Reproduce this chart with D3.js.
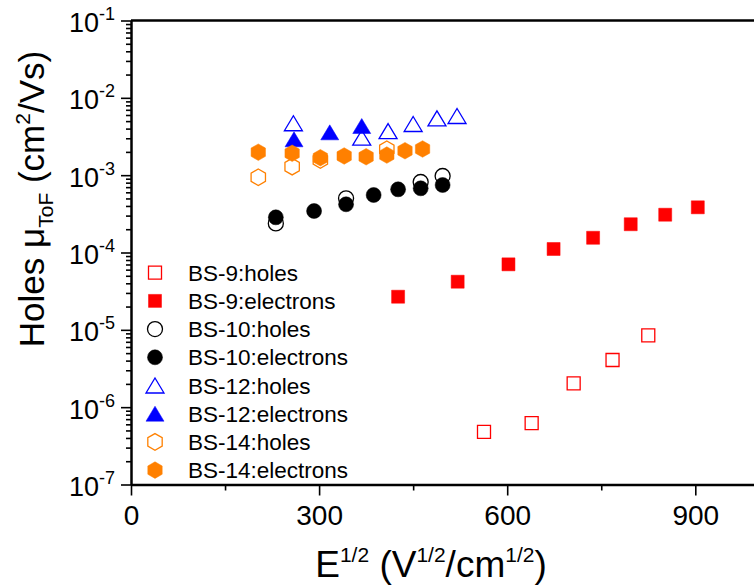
<!DOCTYPE html>
<html>
<head>
<meta charset="utf-8">
<script src="https://d3js.org/d3.v7.min.js"></script>
<style>
  body { margin: 0; background: #fff; }
  text { font-family: "Liberation Sans", Arial, sans-serif; fill: #000; }
</style>
</head>
<body>
<div id="chart"></div>
<script>
// values
const bs9HolesX = [563, 639, 706, 768, 825];
const bs9HolesY = [4.8e-7, 6.2e-7, 2.03e-6, 4.07e-6, 8.5e-6];
const bs9ElecX = [426, 521, 602, 674, 737, 797, 852, 904];
const bs9ElecY = [2.68e-5, 4.19e-5, 7.03e-5, 1.11e-4, 1.55e-4, 2.32e-4, 3.08e-4, 3.84e-4];
const bs10HolesX = [231, 343, 462, 497];
const bs10HolesY = [2.38e-4, 5.02e-4, 8.16e-4, 9.75e-4];
const bs10ElecX = [231, 292, 343, 387, 426, 462, 497];
const bs10ElecY = [2.85e-4, 3.44e-4, 4.2e-4, 5.54e-4, 6.56e-4, 6.76e-4, 7.46e-4];
const bs12HolesX = [259, 368, 410, 450, 488, 520];
const bs12HolesY = [4.69e-3, 3.05e-3, 3.72e-3, 4.59e-3, 5.43e-3, 5.82e-3];
const bs12ElecX = [260, 317, 368];
const bs12ElecY = [2.91e-3, 3.58e-3, 4.32e-3];
const bs14HolesX = [203, 257, 302, 408];
const bs14HolesY = [9.4e-4, 1.29e-3, 1.57e-3, 2.16e-3];
const bs14ElecX = [203, 257, 302, 340, 375, 408, 437, 465];
const bs14ElecY = [1.98e-3, 1.92e-3, 1.68e-3, 1.77e-3, 1.73e-3, 1.82e-3, 2.07e-3, 2.18e-3];

const seriesNames = ["BS-9:holes", "BS-9:electrons", "BS-10:holes", "BS-10:electrons",
                     "BS-12:holes", "BS-12:electrons", "BS-14:holes", "BS-14:electrons"];
const xTicks = [0, 300, 600, 900];
const xMinorTicks = [150, 450, 750];
const yTicks = [1e-7, 1e-6, 1e-5, 1e-4, 1e-3, 1e-2, 1e-1];

const width = 754, height = 586;
const margin = {top: 20.5, left: 131, bottom: 484.5, right: 758};

// custom markers (Origin style)
const triangleUp = {
  draw(ctx, size) {
    const h = Math.sqrt(size / 0.6), w = 1.2 * h;
    ctx.moveTo(0, -h / 2);
    ctx.lineTo(w / 2, h / 2);
    ctx.lineTo(-w / 2, h / 2);
    ctx.closePath();
  }
};
const hexagon = {
  draw(ctx, size) {
    const r = Math.sqrt(2 * size / (3 * Math.sqrt(3)));
    for (let k = 0; k < 6; k++) {
      const a = -Math.PI / 2 + k * Math.PI / 3;
      if (k === 0) ctx.moveTo(r * Math.cos(a), r * Math.sin(a));
      else ctx.lineTo(r * Math.cos(a), r * Math.sin(a));
    }
    ctx.closePath();
  }
};

const series = [
  {name: seriesNames[0], x: bs9HolesX, y: bs9HolesY, shape: d3.symbolSquare, size: 169, color: "#ff0000", filled: false},
  {name: seriesNames[1], x: bs9ElecX, y: bs9ElecY, shape: d3.symbolSquare, size: 169, color: "#ff0000", filled: true},
  {name: seriesNames[2], x: bs10HolesX, y: bs10HolesY, shape: d3.symbolCircle, size: 177, color: "#000000", filled: false},
  {name: seriesNames[3], x: bs10ElecX, y: bs10ElecY, shape: d3.symbolCircle, size: 177, color: "#000000", filled: true},
  {name: seriesNames[4], x: bs12HolesX, y: bs12HolesY, shape: triangleUp, size: 135, color: "#0000ff", filled: false},
  {name: seriesNames[5], x: bs12ElecX, y: bs12ElecY, shape: triangleUp, size: 135, color: "#0000ff", filled: true},
  {name: seriesNames[6], x: bs14HolesX, y: bs14HolesY, shape: hexagon, size: 179, color: "#ff8000", filled: false},
  {name: seriesNames[7], x: bs14ElecX, y: bs14ElecY, shape: hexagon, size: 179, color: "#ff8000", filled: true}
];

const svg = d3.create("svg").attr("width", width).attr("height", height);

const xScale = d3.scaleLinear().domain([0, 1000]).range([margin.left, margin.right]);
const yScale = d3.scaleLog().domain([1e-7, 1e-1]).range([margin.bottom, margin.top]);

// top frame line
svg.append("line")
  .attr("x1", margin.left).attr("x2", margin.right)
  .attr("y1", margin.top).attr("y2", margin.top)
  .attr("stroke", "#000").attr("stroke-width", 2.5);

// x axis
const xAxis = svg.append("g")
  .attr("transform", `translate(0, ${margin.bottom})`)
  .call(d3.axisBottom(xScale).tickValues(xTicks).tickSize(11).tickPadding(10).tickSizeOuter(0));
svg.append("g")
  .attr("transform", `translate(0, ${margin.bottom})`)
  .call(d3.axisBottom(xScale).tickValues(xMinorTicks).tickSize(6).tickFormat("").tickSizeOuter(0))
  .select(".domain").remove();
xAxis.select(".domain").attr("stroke-width", 2.5);
xAxis.selectAll("text").attr("font-size", 28).attr("font-family", "Liberation Sans, Arial, sans-serif");

// y axis
const yMinor = [];
yTicks.slice(0, -1).forEach(d => { for (let m = 2; m <= 9; m++) yMinor.push(d * m); });
const yAxis = svg.append("g")
  .attr("transform", `translate(${margin.left}, 0)`)
  .call(d3.axisLeft(yScale).tickValues(yTicks).tickSize(10).tickFormat("").tickSizeOuter(0));
svg.append("g")
  .attr("transform", `translate(${margin.left}, 0)`)
  .call(d3.axisLeft(yScale).tickValues(yMinor).tickSize(5).tickFormat("").tickSizeOuter(0))
  .select(".domain").remove();
yAxis.select(".domain").attr("stroke-width", 2.5);
svg.selectAll(".tick line").attr("stroke-width", 1.6);

yAxis.selectAll(".tick").each(function(d) {
  const t = d3.select(this).append("text")
    .attr("x", -16).attr("y", 11).attr("text-anchor", "end")
    .attr("font-size", 27).attr("fill", "#000");
  t.append("tspan").text("10");
  t.append("tspan").attr("font-size", 18).attr("dy", -12).text(Math.round(Math.log10(d)));
});

// axis titles
const xt = svg.append("text").attr("x", 431).attr("y", 577).attr("text-anchor", "middle").attr("font-size", 37);
xt.append("tspan").text("E");
xt.append("tspan").attr("font-size", 21).attr("dy", -15).text("1/2");
xt.append("tspan").attr("dy", 15).text(" (V");
xt.append("tspan").attr("font-size", 21).attr("dy", -15).text("1/2");
xt.append("tspan").attr("dy", 15).text("/cm");
xt.append("tspan").attr("font-size", 21).attr("dy", -15).text("1/2");
xt.append("tspan").attr("dy", 15).text(")");

const yt = svg.append("text")
  .attr("transform", "translate(44, 199) rotate(-90)")
  .attr("text-anchor", "middle").attr("font-size", 35);
yt.append("tspan").text("Holes \u03bc");
yt.append("tspan").attr("font-size", 21).attr("dy", 9).text("ToF");
yt.append("tspan").attr("dy", -9).text(" (cm");
yt.append("tspan").attr("font-size", 21).attr("dy", -14).text("2");
yt.append("tspan").attr("dy", 14).text("/Vs)");

// markers
const symbol = d3.symbol();
series.forEach(s => {
  svg.append("g")
    .selectAll("path")
    .data(s.x.map((v, i) => ({x: v, y: s.y[i]})))
    .join("path")
    .attr("transform", d => `translate(${xScale(d.x)}, ${yScale(d.y)})`)
    .attr("d", symbol.type(s.shape).size(s.size)())
    .attr("fill", s.filled ? s.color : "none")
    .attr("stroke", s.color)
    .attr("stroke-width", s.filled ? 0.5 : 1.3);
});

// legend
const legend = svg.append("g").attr("transform", "translate(155, 272.7)");
series.forEach((s, i) => {
  const row = legend.append("g").attr("transform", `translate(0, ${i * 28.2})`);
  row.append("path")
    .attr("d", d3.symbol().type(s.shape).size(s.size)())
    .attr("fill", s.filled ? s.color : "none")
    .attr("stroke", s.color)
    .attr("stroke-width", s.filled ? 0.5 : 1.3);
  row.append("text").attr("x", 33).attr("y", 8).attr("font-size", 22.5).text(s.name);
});

document.getElementById("chart").appendChild(svg.node());
</script>
</body>
</html>
